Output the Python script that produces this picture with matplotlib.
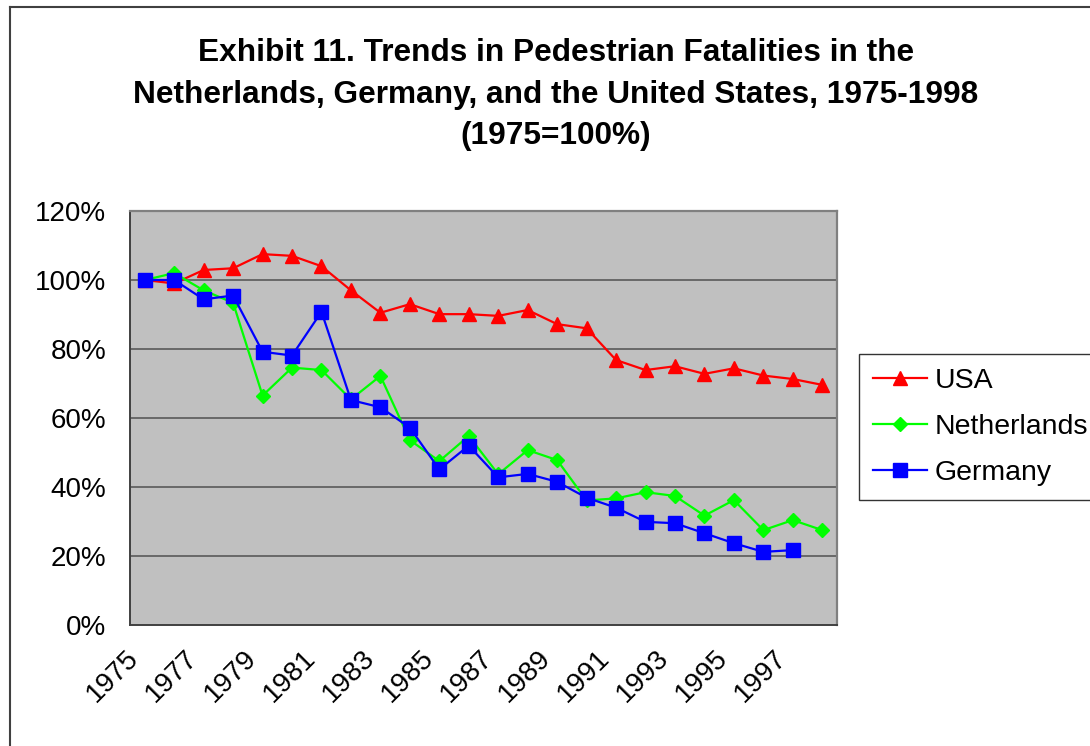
import matplotlib
matplotlib.use("Agg")
import matplotlib.pyplot as plt
from matplotlib.lines import Line2D
from matplotlib.ticker import FuncFormatter
from matplotlib.transforms import ScaledTranslation

plt.rcParams["font.family"] = ["Liberation Sans", "DejaVu Sans"]

# Index values, 1975 = 100%
years = list(range(1975, 1999))
usa = [100, 99, 102.9, 103.4, 107.5, 107, 104, 97, 90.5, 93, 90.1, 90.1,
       89.6, 91.3, 87.2, 86, 76.8, 73.9, 75, 72.8, 74.4, 72.3, 71.3, 69.6]
netherlands = [100, 102, 97, 93.4, 66.5, 74.6, 73.9, 65.4, 72.2, 53.6, 47.5, 54.8,
               43.7, 50.7, 47.8, 36.1, 36.7, 38.5, 37.4, 31.7, 36.2, 27.5, 30.4, 27.5]
germany = [100, 100, 94.4, 95.5, 79.2, 78.1, 90.8, 65.2, 63.1, 57.2, 45.1, 52,
           42.8, 43.8, 41.5, 36.9, 34, 29.9, 29.5, 26.6, 23.7, 21.2, 21.7, None]

title = ("Exhibit 11. Trends in Pedestrian Fatalities in the\n"
         "Netherlands, Germany, and the United States, 1975-1998\n"
         "(1975=100%)")

W, H = 1090, 746
fig = plt.figure(figsize=(W / 100, H / 100), dpi=100)
ax = fig.add_axes([130 / W, 1 - 625 / H, 707 / W, 414 / H])
ax.set_facecolor("#c0c0c0")

x = list(range(len(years)))
ax.plot(x, usa, color="#ff0000", lw=1.6, marker="^", ms=10.5, label="USA", zorder=3)
ax.plot(x, netherlands, color="#00ff00", lw=1.6, marker="D", ms=7.5,
        label="Netherlands", zorder=4)
ax.plot(x, [v if v is not None else float("nan") for v in germany], color="#0000ff",
        lw=1.6, marker="s", ms=10, label="Germany", zorder=5)

ax.set_xlim(-0.5, len(years) - 0.5)
ax.set_ylim(0, 120)
ax.set_yticks(range(0, 121, 20))
ax.yaxis.set_major_formatter(FuncFormatter(lambda v, _: f"{v:.0f}%"))
ax.set_xticks(x[::2])
ax.set_xticklabels([str(y) for y in years[::2]], rotation=45, ha="right",
                   va="center", rotation_mode="anchor")
ax.tick_params(axis="both", length=0, labelsize=20, colors="black")
ax.tick_params(axis="y", pad=17)
ax.tick_params(axis="x", pad=21)
shift = ScaledTranslation(-10 / 100, 0, fig.dpi_scale_trans)
for lbl in ax.get_xticklabels():
    lbl.set_transform(lbl.get_transform() + shift)

for v in range(20, 101, 20):
    ax.axhline(v, color="#505050", lw=1.1, zorder=1)

for side in ("left", "bottom"):
    ax.spines[side].set_color("#404040")
    ax.spines[side].set_linewidth(1.4)
for side in ("top", "right"):
    ax.spines[side].set_color("#808080")
    ax.spines[side].set_linewidth(1.6)

fig.text(556 / W, 1 - 38 / H, title, ha="center", va="top", fontsize=22.8,
         fontweight="bold", linespacing=1.5)

leg = ax.legend(loc="upper left", bbox_to_anchor=(859 / W, 1 - 354 / H),
                bbox_transform=fig.transFigure, fontsize=20.5, frameon=True,
                fancybox=False, borderaxespad=0, handlelength=1.9,
                handletextpad=0.25, labelspacing=0.7, borderpad=0.5)
leg.get_frame().set_edgecolor("black")
leg.get_frame().set_linewidth(1.0)

# outer chart border (left and top edges visible)
fig.add_artist(Line2D([9.5 / W, 9.5 / W], [0, 1 - 7 / H], color="#404040", lw=1.5))
fig.add_artist(Line2D([9.5 / W, 1], [1 - 7 / H, 1 - 7 / H], color="#404040", lw=1.5))

fig.savefig("out.png", dpi=100)
